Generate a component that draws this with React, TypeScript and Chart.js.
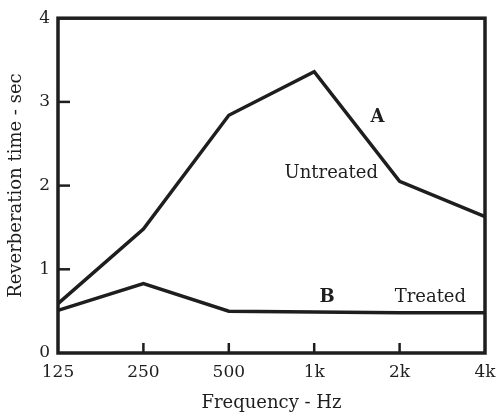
import React, { useEffect, useRef } from "react";
import { Chart, registerables } from "chart.js";

Chart.register(...registerables);

const categories = ["125", "250", "500", "1k", "2k", "4k"];
const untreated = [0.59, 1.48, 2.84, 3.36, 2.05, 1.63];
const treated = [0.51, 0.83, 0.5, 0.49, 0.48, 0.48];
const yTicks = [0, 1, 2, 3, 4];

const FONT = "'DejaVu Serif', serif";
const INK = "#1e1e1e";

const annotations = [
  { text: "A", x: 3.74, y: 2.82, bold: true },
  { text: "Untreated", x: 3.2, y: 2.15, bold: false },
  { text: "B", x: 3.15, y: 0.66, bold: true },
  { text: "Treated", x: 4.36, y: 0.66, bold: false },
];

const framePlugin = {
  id: "frame",
  afterDatasetsDraw(chart: any) {
    const { ctx, chartArea: a, scales } = chart;
    ctx.save();
    ctx.strokeStyle = INK;
    ctx.lineWidth = 3.5;
    ctx.lineCap = "butt";
    ctx.strokeRect(a.left, a.top, a.right - a.left, a.bottom - a.top);
    ctx.lineWidth = 2.5;
    const xs = scales.x;
    for (let i = 1; i < categories.length - 1; i++) {
      const px = xs.getPixelForValue(i);
      ctx.beginPath();
      ctx.moveTo(px, a.bottom);
      ctx.lineTo(px, a.bottom - 10);
      ctx.stroke();
    }
    const ys = scales.y;
    for (let i = 1; i < yTicks.length - 1; i++) {
      const py = ys.getPixelForValue(yTicks[i]);
      ctx.beginPath();
      ctx.moveTo(a.left, py);
      ctx.lineTo(a.left + 12, py);
      ctx.stroke();
    }
    ctx.fillStyle = INK;
    ctx.textAlign = "center";
    ctx.textBaseline = "middle";
    for (const t of annotations) {
      ctx.font = `${t.bold ? "bold " : ""}18px ${FONT}`;
      ctx.fillText(t.text, xs.getPixelForValue(t.x), ys.getPixelForValue(t.y));
    }
    ctx.restore();
  },
};

export default function App() {
  const ref = useRef<HTMLCanvasElement>(null);
  useEffect(() => {
    const chart = new Chart(ref.current as HTMLCanvasElement, {
      type: "line",
      data: {
        labels: categories,
        datasets: [
          {
            label: "Untreated",
            data: untreated,
            borderColor: INK,
            borderWidth: 3.5,
            pointRadius: 0,
            tension: 0,
            fill: false,
          },
          {
            label: "Treated",
            data: treated,
            borderColor: INK,
            borderWidth: 3.5,
            pointRadius: 0,
            tension: 0,
            fill: false,
          },
        ],
      },
      options: {
        animation: false,
        responsive: true,
        maintainAspectRatio: false,
        layout: { padding: { top: 16, right: 11, left: 0, bottom: 0 } },
        plugins: { legend: { display: false }, tooltip: { enabled: false } },
        scales: {
          x: {
            type: "category",
            offset: false,
            grid: { display: false, drawTicks: false },
            border: { display: false },
            ticks: {
              color: INK,
              font: { family: FONT, size: 17 },
              padding: 9,
              maxRotation: 0,
              autoSkip: false,
            },
            title: {
              display: true,
              text: "Frequency - Hz",
              color: INK,
              font: { family: FONT, size: 18 },
              padding: { top: 4, bottom: 2 },
            },
            afterFit(s: any) {
              s.height = 63;
              s.paddingRight = 0;
              s.paddingLeft = 0;
            },
          },
          y: {
            min: 0,
            max: 4,
            afterBuildTicks(s: any) {
              s.ticks = yTicks.map((v) => ({ value: v }));
            },
            grid: { display: false, drawTicks: false },
            border: { display: false },
            ticks: {
              color: INK,
              font: { family: FONT, size: 17 },
              padding: 8,
            },
            title: {
              display: true,
              text: "Reverberation time - sec",
              color: INK,
              font: { family: FONT, size: 18 },
              padding: { top: 6, bottom: 2 },
            },
            afterFit(s: any) {
              s.width = 58;
            },
          },
        },
      },
      plugins: [framePlugin],
    } as any);
    return () => chart.destroy();
  }, []);
  return (
    <div style={{ position: "fixed", left: 0, top: 0, width: 496, height: 416, background: "#fff" }}>
      <canvas ref={ref} />
    </div>
  );
}
